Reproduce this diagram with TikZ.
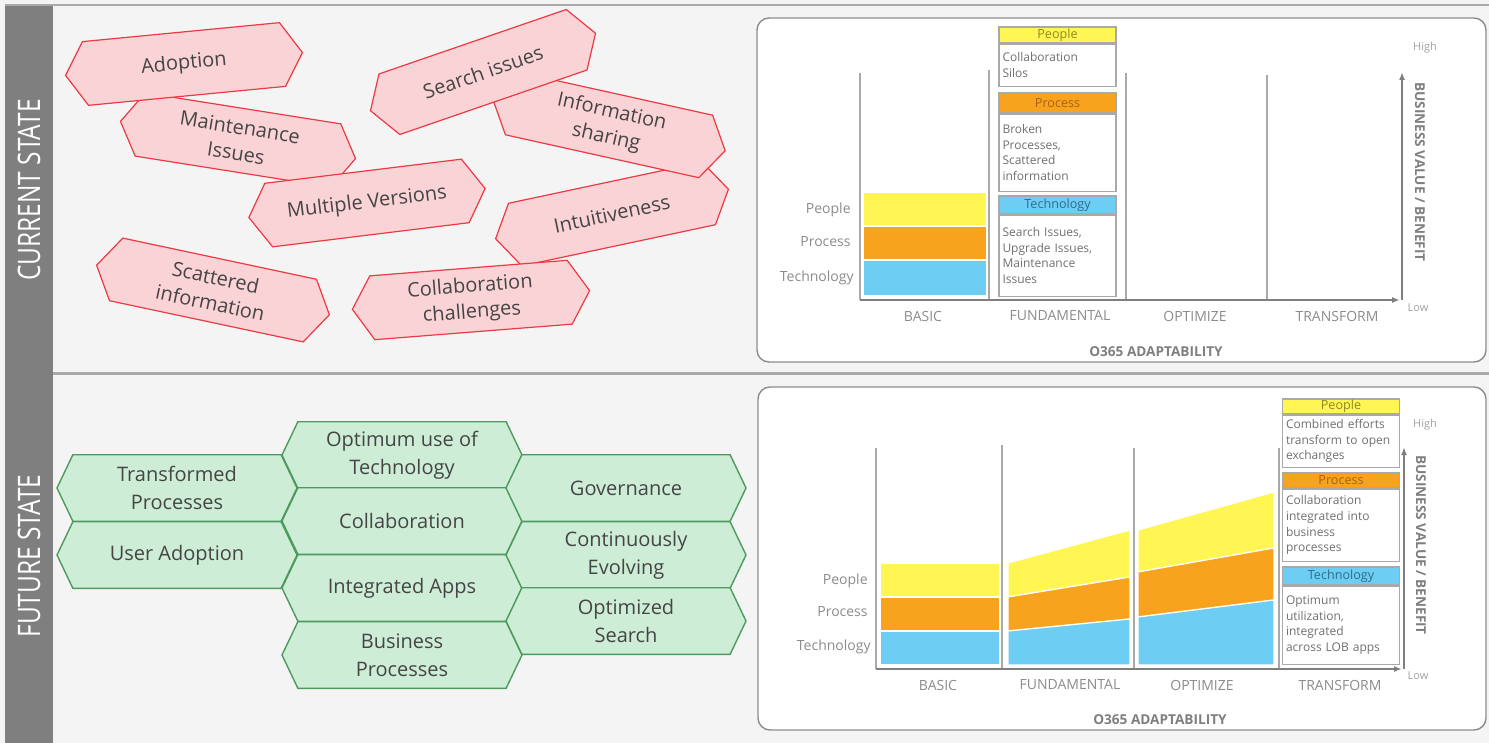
\documentclass[tikz,border=0pt]{standalone}
\usepackage{fontspec}
\setmainfont{Open Sans}
\usepackage{graphicx}
\usetikzlibrary{arrows.meta,shapes.symbols}
\usepackage{xcolor}

\definecolor{bargray}{HTML}{7F7F7F}
\definecolor{panelbg}{HTML}{F4F4F4}
\definecolor{rulegray}{HTML}{A9A9A9}
\definecolor{pinkfill}{HTML}{FAD3D6}
\definecolor{pinkline}{HTML}{EC3A44}
\definecolor{greenfill}{HTML}{CDEDD6}
\definecolor{greenline}{HTML}{4E9A5E}
\definecolor{ppl}{HTML}{FFF553}
\definecolor{prc}{HTML}{F8A31D}
\definecolor{tec}{HTML}{6DCDF3}
\definecolor{pplt}{HTML}{8F8A1E}
\definecolor{prct}{HTML}{A8620E}
\definecolor{tect}{HTML}{2F6E8C}
\definecolor{hextext}{HTML}{454545}
\definecolor{labgray}{HTML}{8C8C8C}

\begin{document}
\begin{tikzpicture}[x=0.5pt, y=-0.5pt, >={Latex[length=4pt,width=3pt]},
  issue/.style={shape=signal, signal to=west and east, signal pointer angle=116, draw=pinkline, fill=pinkfill, line width=0.6pt, minimum width=119pt, minimum height=32pt, inner sep=1pt, align=center, text=hextext, font=\fontsize{10}{13}\selectfont},
  goal/.style={shape=signal, signal to=west and east, signal pointer angle=129, draw=greenline, fill=greenfill, line width=0.7pt, minimum width=120pt, minimum height=33.3pt, inner sep=1pt, align=center, text=hextext, font=\fontsize{10}{14}\selectfont},
  state/.style={text=white, rotate=90, inner sep=0pt, font=\fontsize{15.5}{16}\selectfont},
  frame/.style={draw=bargray!90, line width=0.7pt, fill=white, rounded corners=6pt},
  grid/.style={draw=rulegray, line width=0.8pt},
  axis/.style={->, draw=bargray, line width=1.1pt},
  lvl/.style={anchor=east, inner sep=1pt, text=labgray, font=\fontsize{7}{8}\selectfont},
  stage/.style={inner sep=1pt, text=labgray, font=\fontsize{7}{8}\selectfont},
  axtitle/.style={inner sep=1pt, text=bargray, font=\bfseries\fontsize{6.8}{8}\selectfont},
  tick/.style={inner sep=1pt, text=labgray!80, font=\fontsize{5.5}{6}\selectfont},
  band/.style={draw=white, line width=0.6pt},
  head/.style={draw=rulegray, fill=#1, line width=0.6pt, minimum width=58.5pt, inner sep=0pt, font=\fontsize{6.3}{7}\selectfont},
  note/.style={draw=rulegray, fill=white, line width=0.6pt, anchor=north, text width=55pt, inner xsep=1.75pt, inner ysep=1pt, align=left, text=labgray!80!black, font=\fontsize{6}{7.8}\selectfont}
]
\useasboundingbox (0,0) rectangle (1489,743);
% background, side bar and panel rules
\fill[panelbg] (0,0) rectangle (1489,743);
\fill[bargray] (5,5) rectangle (53,743);
\draw[rulegray, line width=0.8pt] (5,5) -- (1489,5);
\draw[rulegray, line width=1.5pt] (53,373) -- (1489,373);
\node[state] (cur) at (29,190) {\scalebox{0.79}[1]{CURRENT STATE}};
\node[state] (fut) at (29,556) {\scalebox{0.79}[1]{FUTURE STATE}};

% current state issues
\node[issue, rotate=-9] (maint) at (238,140) {Maintenance\\Issues};
\node[issue, rotate=5.5] (adopt) at (184,64) {Adoption};
\node[issue, rotate=7] (versions) at (367,203) {Multiple Versions};
\node[issue, rotate=-12] (scatter) at (213,290) {Scattered\\information};
\node[issue, rotate=12] (intuit) at (612,214) {Intuitiveness};
\node[issue, rotate=-12.5] (share) at (609,125) {Information\\sharing};
\node[issue, rotate=19] (search) at (483,72) {Search issues};
\node[issue, rotate=4.5] (collab) at (471,300) {Collaboration\\challenges};

% future state goals
\node[goal] (transf) at (177,488) {Transformed\\Processes};
\node[goal] (useradopt) at (177,555) {User Adoption};
\node[goal] (optuse) at (402,455) {Optimum use of\\Technology};
\node[goal] (collabf) at (402,521) {Collaboration};
\node[goal] (intapps) at (402,588) {Integrated Apps};
\node[goal] (bizproc) at (402,655) {Business\\Processes};
\node[goal] (gov) at (626,488) {Governance};
\node[goal] (contev) at (626,555) {Continuously\\Evolving};
\node[goal] (optsearch) at (626,621) {Optimized\\Search};

% current state chart
\draw[frame] (757,18) rectangle (1486,362);
\draw[grid] (989,70) -- (989,300);
\draw[grid] (1126,73) -- (1126,300);
\draw[grid] (1267,75) -- (1267,300);
\draw[grid] (860,73) -- (860,300);
\fill[ppl, band] (863,192) rectangle (987,226);
\fill[prc, band] (863,226) rectangle (987,260);
\fill[tec, band] (863,260) rectangle (987,296);
\draw[axis] (860,300) -- (1400,300);
\draw[axis] (1402,300) -- (1402,72);
\node[lvl] (cl1) at (853,210) {People};
\node[lvl] (cl2) at (853,242) {Process};
\node[lvl] (cl3) at (856,278) {Technology};
\node[stage] (cs1) at (923,316) {BASIC};
\node[stage] (cs2) at (1060,316) {FUNDAMENTAL};
\node[stage] (cs3) at (1195,316) {OPTIMIZE};
\node[stage] (cs4) at (1337,316) {TRANSFORM};
\node[axtitle] (cx) at (1156,352) {O365 ADAPTABILITY};
\node[axtitle, rotate=-90] (cy) at (1420,172) {BUSINESS VALUE / BENEFIT};
\node[tick] (chi) at (1425,48) {High};
\node[tick] (clo) at (1418,308) {Low};
\node[head=ppl, text=pplt, minimum height=8pt] (cph) at (1057.5,35) {People};
\node[note, minimum height=21pt] (cpb) at (cph.south) {Collaboration\\Silos};
\node[head=prc, text=prct, minimum height=10pt] (crh) at (1057.5,103) {Process};
\node[note, minimum height=38.5pt] (crb) at (crh.south) {Broken\\Processes,\\Scattered\\information};
\node[head=tec, text=tect, minimum height=9pt] (cth) at (1057.5,205) {Technology};
\node[note, minimum height=40.5pt] (ctb) at (cth.south) {Search Issues,\\Upgrade Issues,\\Maintenance\\Issues};

% future state chart
\draw[frame] (758,387) rectangle (1486,730);
\draw[grid] (876,448) -- (876,669);
\draw[grid] (1002,445) -- (1002,669);
\draw[grid] (1134,448) -- (1134,669);
\draw[grid] (1279,448) -- (1279,669);
\fill[ppl, band] (880,563) rectangle (1000,597);
\fill[prc, band] (880,597) rectangle (1000,631);
\fill[tec, band] (880,631) rectangle (1000,665);
\fill[ppl, band] (1008,563) -- (1130,530) -- (1130,577) -- (1008,597) -- cycle;
\fill[prc, band] (1008,597) -- (1130,577) -- (1130,619) -- (1008,631) -- cycle;
\fill[tec, band] (1008,631) -- (1130,619) -- (1130,665) -- (1008,665) -- cycle;
\fill[ppl, band] (1138,530) -- (1274,492) -- (1274,548) -- (1138,572) -- cycle;
\fill[prc, band] (1138,572) -- (1274,548) -- (1274,600) -- (1138,617) -- cycle;
\fill[tec, band] (1138,617) -- (1274,600) -- (1274,665) -- (1138,665) -- cycle;
\draw[axis] (876,669) -- (1402,669);
\draw[axis] (1404,669) -- (1404,447);
\node[lvl] (fl1) at (870,581) {People};
\node[lvl] (fl2) at (870,612) {Process};
\node[lvl] (fl3) at (873,647) {Technology};
\node[stage] (fs1) at (938,685) {BASIC};
\node[stage] (fs2) at (1070,685) {FUNDAMENTAL};
\node[stage] (fs3) at (1202,685) {OPTIMIZE};
\node[stage] (fs4) at (1340,685) {TRANSFORM};
\node[axtitle] (fx) at (1160,720) {O365 ADAPTABILITY};
\node[axtitle, rotate=-90] (fy) at (1421,545) {BUSINESS VALUE / BENEFIT};
\node[tick] (fhi) at (1425,425) {High};
\node[tick] (flo) at (1418,676) {Low};
\node[head=ppl, text=pplt, minimum height=7.5pt] (fph) at (1341,406.5) {People};
\node[note, minimum height=26pt] (fpb) at (fph.south) {Combined efforts\\transform to open\\exchanges};
\node[head=prc, text=prct, minimum height=7.5pt] (frh) at (1341,480.5) {Process};
\node[note, minimum height=36pt] (frb) at (frh.south) {Collaboration\\integrated into\\business\\processes};
\node[head=tec, text=tect, minimum height=9pt] (fth) at (1341,576) {Technology};
\node[note, minimum height=39pt] (ftb) at (fth.south) {Optimum\\utilization,\\integrated\\across LOB apps};
\end{tikzpicture}
\end{document}
